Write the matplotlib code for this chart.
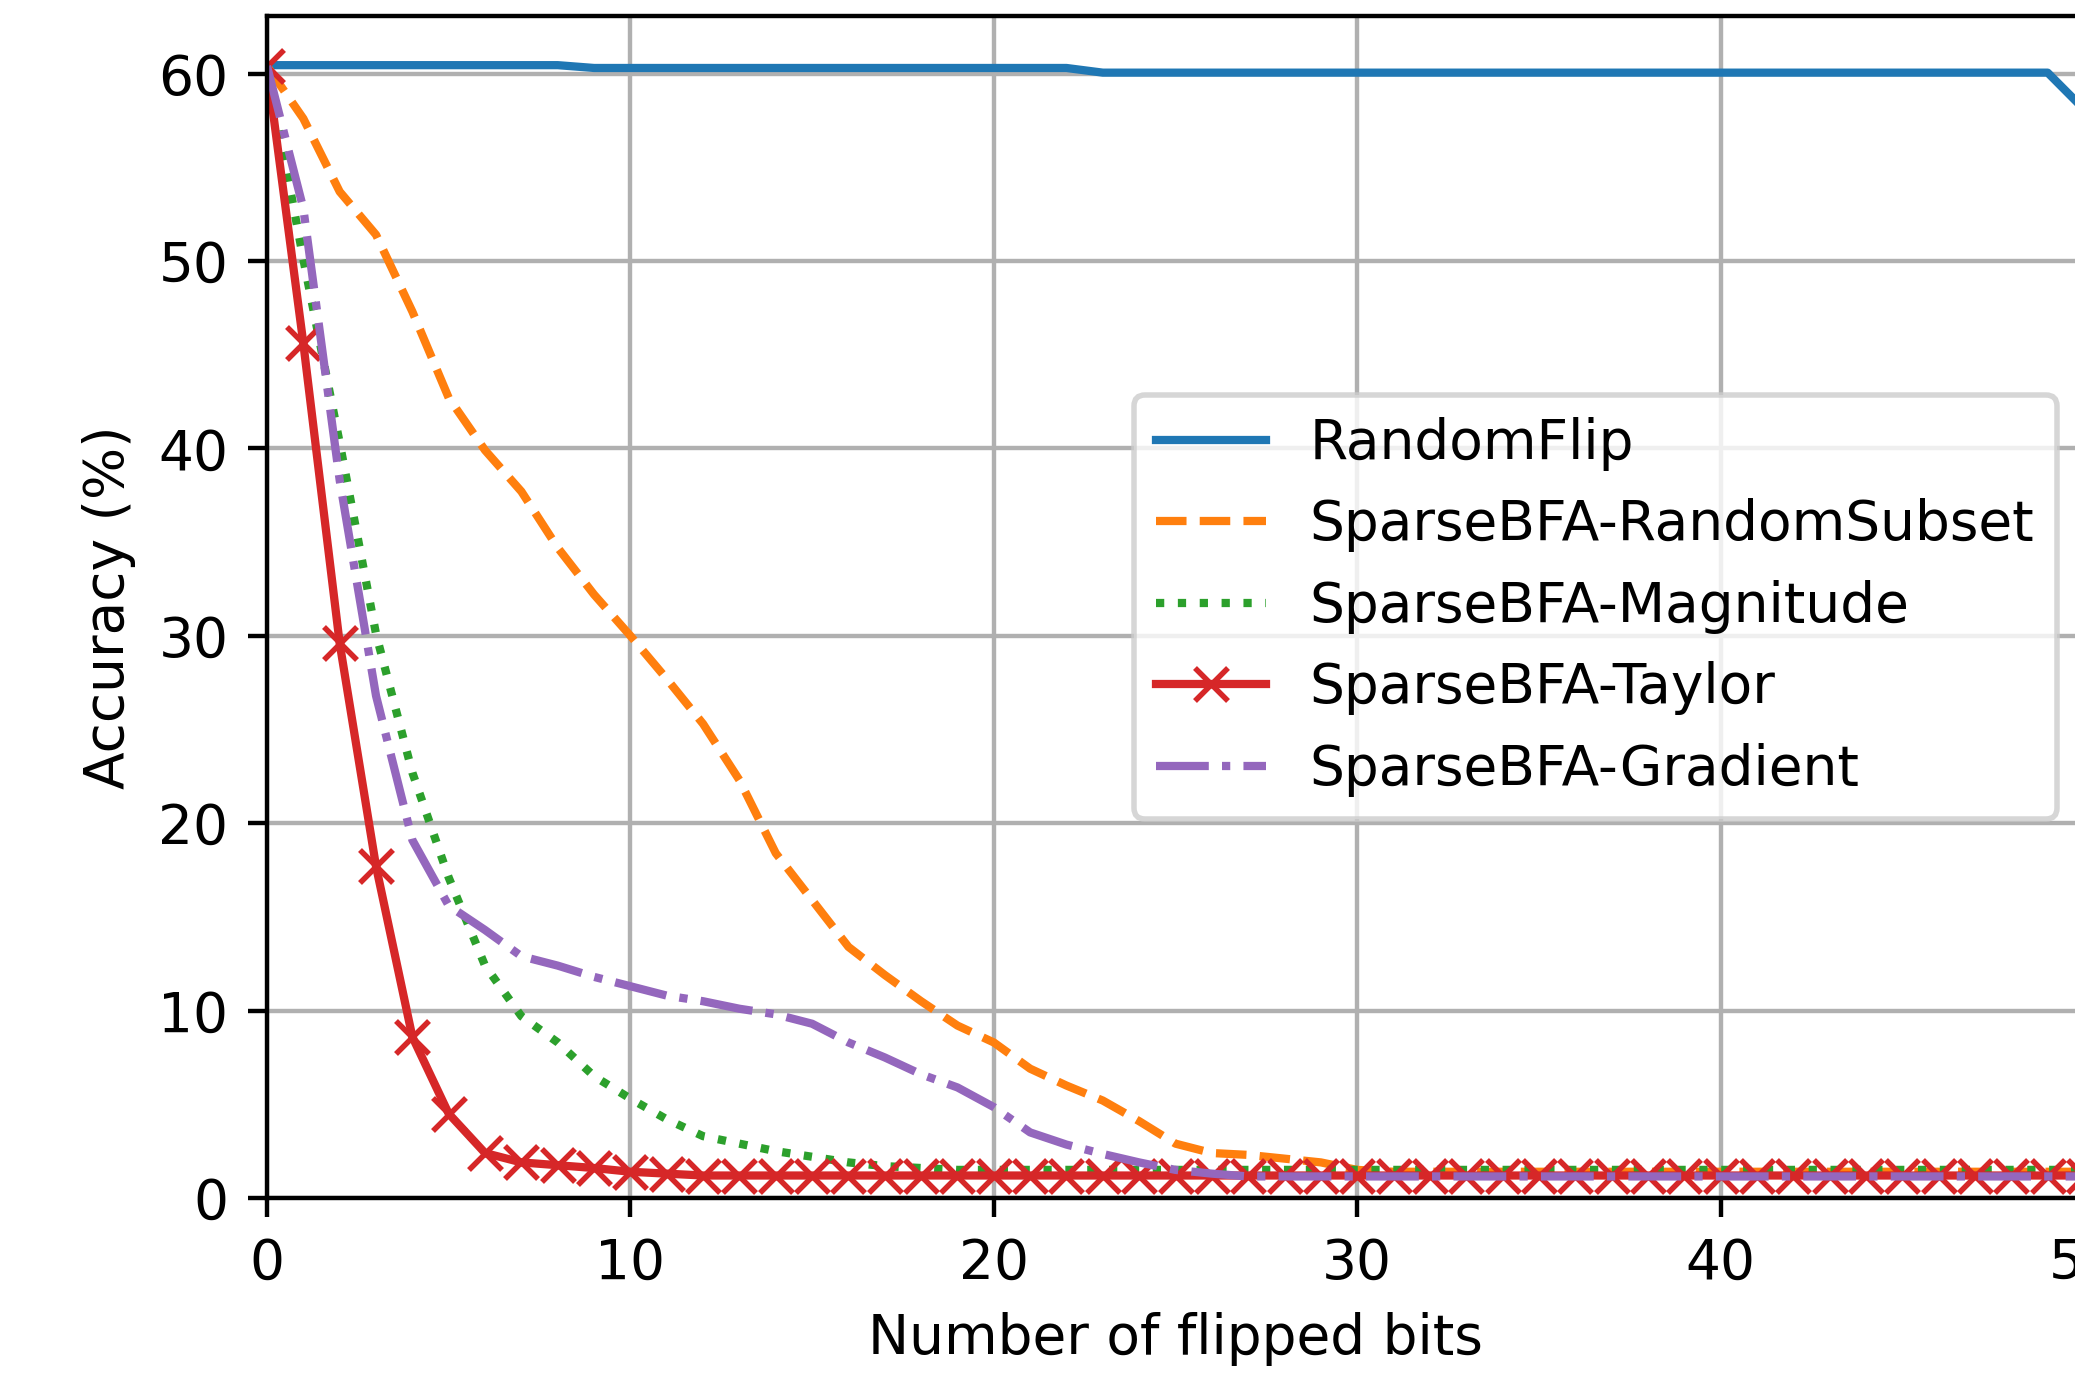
import matplotlib
matplotlib.use("Agg")
import matplotlib.pyplot as plt

flipped_bits = list(range(51))

random_flip = [60.45, 60.45, 60.45, 60.45, 60.45, 60.45, 60.45, 60.45, 60.45,
               60.3, 60.3, 60.3, 60.3, 60.3, 60.3, 60.3, 60.3, 60.3, 60.3, 60.3,
               60.3, 60.3, 60.3,
               60.05, 60.05, 60.05, 60.05, 60.05, 60.05, 60.05, 60.05, 60.05, 60.05,
               60.05, 60.05, 60.05, 60.05, 60.05, 60.05, 60.05, 60.05, 60.05, 60.05,
               60.05, 60.05, 60.05, 60.05, 60.05, 60.05, 60.05, 58.1]

random_subset = [60.4, 57.6, 53.7, 51.4, 47.3, 42.7, 39.9, 37.7, 34.7, 32.2,
                 30.0, 27.7, 25.3, 22.3, 18.4, 15.9, 13.4, 11.9, 10.5, 9.2,
                 8.3, 6.9, 6.0, 5.2, 4.1, 2.9, 2.4, 2.3, 2.1, 1.9,
                 1.5, 1.4, 1.4, 1.4, 1.4, 1.4, 1.4, 1.4, 1.4, 1.4,
                 1.4, 1.4, 1.4, 1.4, 1.4, 1.4, 1.4, 1.4, 1.4, 1.4, 1.4]

magnitude = [60.4, 50.1, 40.3, 30.1, 22.7, 17.1, 12.4, 9.7, 8.3, 6.5,
             5.3, 4.2, 3.3, 2.9, 2.5, 2.2, 1.9, 1.7, 1.6, 1.5,
             1.5, 1.5, 1.5, 1.5, 1.5, 1.5, 1.5, 1.5, 1.5, 1.5,
             1.5, 1.5, 1.5, 1.5, 1.5, 1.5, 1.5, 1.5, 1.5, 1.5,
             1.5, 1.5, 1.5, 1.5, 1.5, 1.5, 1.5, 1.5, 1.5, 1.5, 1.5]

taylor = [60.4, 45.6, 29.6, 17.7, 8.6, 4.5, 2.4, 1.9, 1.75, 1.6,
          1.4, 1.3, 1.2, 1.2, 1.2, 1.2, 1.2, 1.2, 1.2, 1.2,
          1.2, 1.2, 1.2, 1.2, 1.2, 1.2, 1.2, 1.2, 1.2, 1.2,
          1.2, 1.2, 1.2, 1.2, 1.2, 1.2, 1.2, 1.2, 1.2, 1.2,
          1.2, 1.2, 1.2, 1.2, 1.2, 1.2, 1.2, 1.2, 1.2, 1.2, 1.2]

gradient = [60.4, 52.8, 38.3, 26.8, 19.1, 15.6, 14.3, 12.9, 12.4, 11.8,
            11.3, 10.8, 10.5, 10.1, 9.8, 9.3, 8.3, 7.5, 6.6, 5.9,
            4.85, 3.5, 2.85, 2.35, 1.9, 1.5, 1.3, 1.15, 1.15, 1.15,
            1.15, 1.15, 1.15, 1.15, 1.15, 1.15, 1.15, 1.15, 1.15, 1.15,
            1.15, 1.15, 1.15, 1.15, 1.15, 1.15, 1.15, 1.15, 1.15, 1.15, 1.15]

labels = ["RandomFlip", "SparseBFA-RandomSubset", "SparseBFA-Magnitude",
          "SparseBFA-Taylor", "SparseBFA-Gradient"]

DPI = 396
fig = plt.figure(figsize=(2075 / DPI, 1376 / DPI), dpi=DPI)
ax = fig.add_axes([267 / 2075, (1376 - 1198) / 1376,
                   (2084 - 267) / 2075, (1198 - 15.5) / 1376])

ax.plot(flipped_bits, random_flip, '-', color='C0', label=labels[0])
ax.plot(flipped_bits, random_subset, '--', color='C1', label=labels[1])
ax.plot(flipped_bits, magnitude, ':', color='C2', label=labels[2])
ax.plot(flipped_bits, taylor, '-', marker='x', color='C3', label=labels[3])
ax.plot(flipped_bits, gradient, '-.', color='C4', label=labels[4])

ax.set_xlim(0, 50)
ax.set_ylim(0, 63.1)
ax.set_xticks([0, 10, 20, 30, 40, 50])
ax.set_yticks([0, 10, 20, 30, 40, 50, 60])
ax.grid(True)
ax.set_xlabel("Number of flipped bits")
ax.set_ylabel("Accuracy (%)")
ax.legend(loc='center right')

fig.savefig("out.png", dpi=DPI)
